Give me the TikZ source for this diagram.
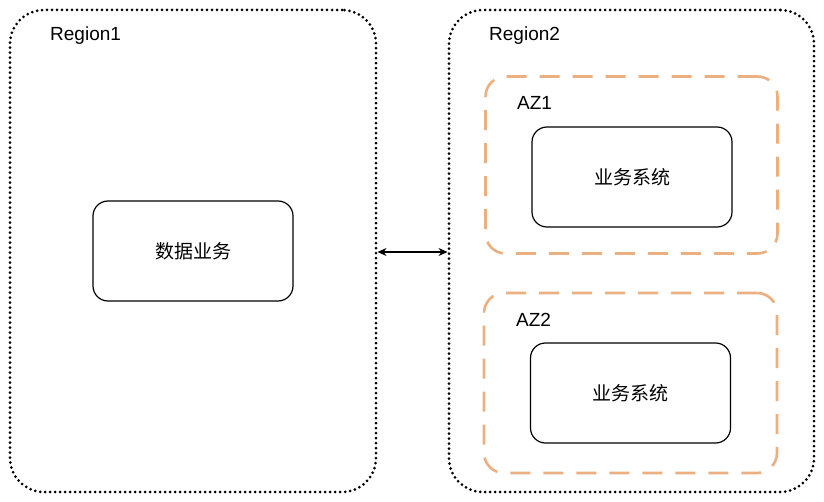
\documentclass[tikz,border=0pt]{standalone}
\usepackage{fontspec}
\setmainfont{Liberation Sans}
\newfontfamily\cjk{Noto Sans CJK SC}
\usetikzlibrary{arrows.meta}
\definecolor{azorange}{RGB}{236,176,128}
\tikzset{
  region/.style={draw=black, line width=3pt, line cap=round, dash pattern=on 0pt off 5pt, rounded corners=34pt},
  azbox/.style={draw=azorange, line width=2.6pt, dash pattern=on 20pt off 13pt, rounded corners=20pt},
  sysbox/.style={draw=black, line width=1.2pt, rounded corners=15pt, minimum width=200pt, minimum height=100pt, inner sep=0pt, font=\cjk\fontsize{19}{21}\selectfont},
  lbl/.style={anchor=west, inner sep=0pt, font=\fontsize{19}{21}\selectfont}
}
\begin{document}
\begin{tikzpicture}[x=1pt,y=-1pt]
\useasboundingbox (0,0) rectangle (824,502);
\node[region, minimum width=366pt, minimum height=482pt, inner sep=0pt] (r1) at (193,251) {};
\node[region, minimum width=365pt, minimum height=482pt, inner sep=0pt] (r2) at (631.5,251) {};
\node[lbl] (r1l) at (50,36) {Region1};
\node[lbl] (r2l) at (489,36) {Region2};
\node[azbox, minimum width=292pt, minimum height=177pt, inner sep=0pt] (az1) at (631.5,165) {};
\node[azbox, minimum width=293pt, minimum height=180pt, inner sep=0pt] (az2) at (630.5,383) {};
\node[lbl] (az1l) at (517,103) {AZ1};
\node[lbl] (az2l) at (516,320) {AZ2};
\node[sysbox] (data) at (193,251) {数据业务};
\node[sysbox] (sys1) at (632,177) {业务系统};
\node[sysbox] (sys2) at (630.5,393) {业务系统};
\draw[line width=1.3pt, {Stealth[length=9pt,width=8pt]}-{Stealth[length=9pt,width=8pt]}] (r1.east |- 0,252) -- (r2.west |- 0,252);
\end{tikzpicture}
\end{document}
